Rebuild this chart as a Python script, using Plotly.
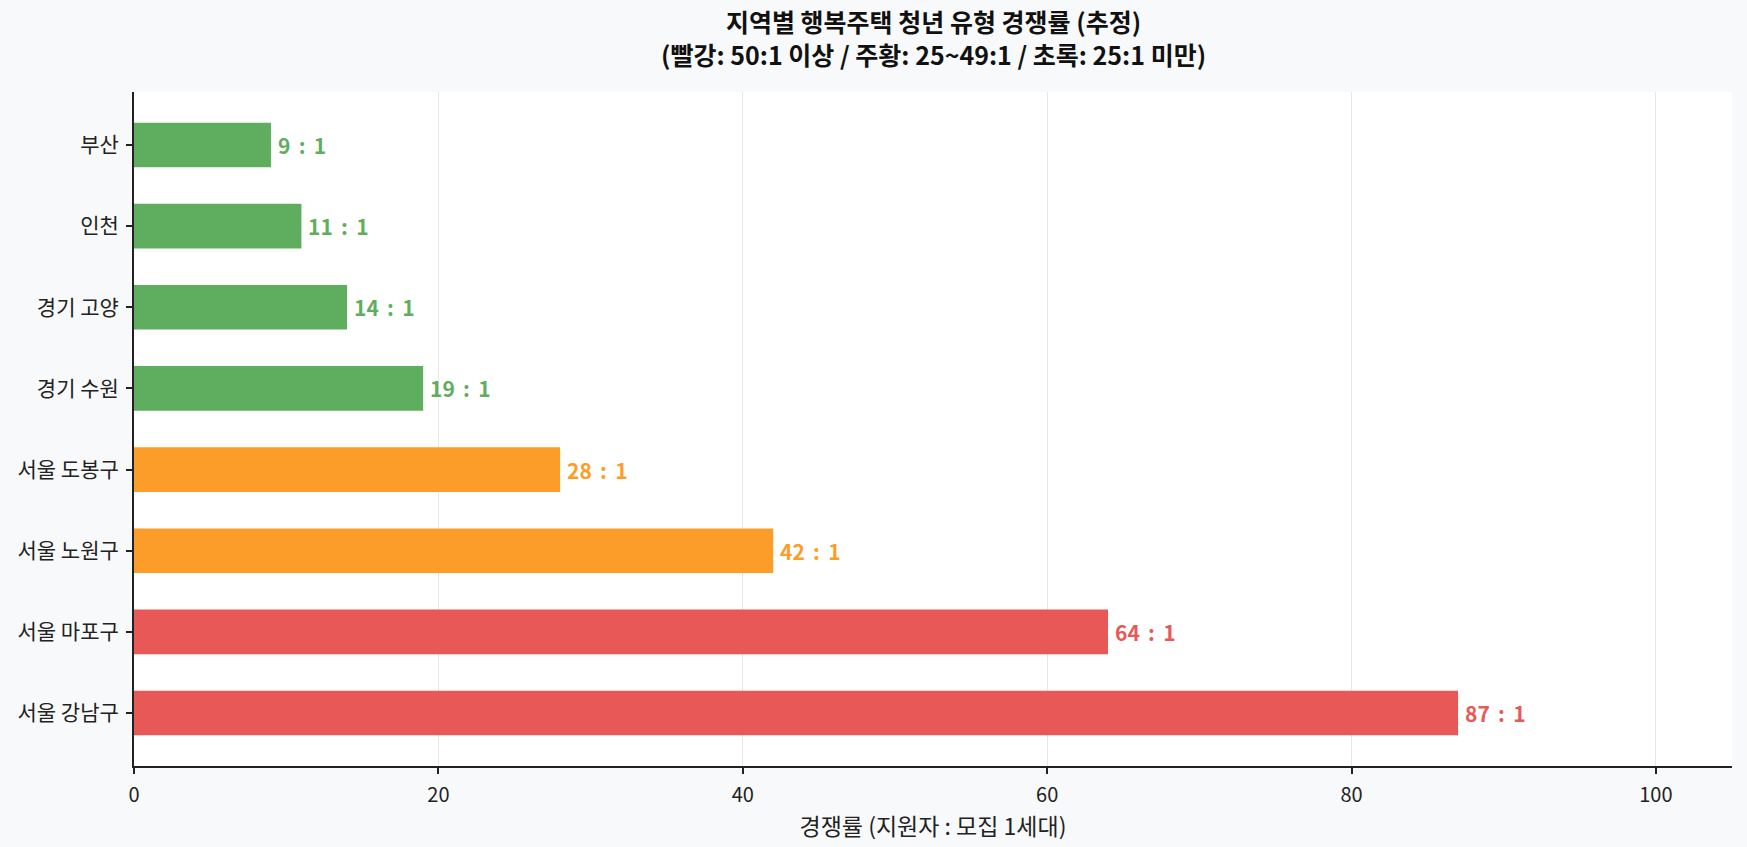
import plotly.graph_objects as go

regions = ["서울 강남구", "서울 마포구", "서울 노원구", "서울 도봉구", "경기 수원", "경기 고양", "인천", "부산"]
ratios = [87, 64, 42, 28, 19, 14, 11, 9]
labels = ["87 : 1", "64 : 1", "42 : 1", "28 : 1", "19 : 1", "14 : 1", "11 : 1", "9 : 1"]
title_lines = ["지역별 행복주택 청년 유형 경쟁률 (추정)",
               "(빨강: 50:1 이상 / 주황: 25~49:1 / 초록: 25:1 미만)"]

RED, ORANGE, GREEN = "#E85856", "#FC9D29", "#5FAE60"


def color_for(v):
    if v >= 50:
        return RED
    if v >= 25:
        return ORANGE
    return GREEN


colors = [color_for(v) for v in ratios]
FONT = "Noto Sans CJK KR"

fig = go.Figure()
fig.add_trace(go.Bar(
    y=regions, x=ratios, orientation="h",
    marker=dict(color=colors, line=dict(width=0)),
    width=0.55, hoverinfo="x+y",
))

for r, v, lab, c in zip(regions, ratios, labels, colors):
    fig.add_annotation(x=v, y=r, text="<b>" + lab.replace(" ", " \u2006") + "</b>", showarrow=False,
                       xanchor="left", yanchor="middle", xshift=5,
                       font=dict(family=FONT, size=21, color=c))

fig.add_annotation(x=0.5, y=1.0809, xref="paper", yref="paper",
                   text="<b>" + "<br>".join(title_lines) + "</b>",
                   showarrow=False, xanchor="center", yanchor="middle", align="center",
                   font=dict(family=FONT, size=25, color="#111111"))

fig.update_layout(
    width=1747, height=847,
    paper_bgcolor="#F8F9FA", plot_bgcolor="#FFFFFF",
    margin=dict(l=134, r=15, t=92, b=81),
    font=dict(family=FONT, size=20, color="#222222"),
    showlegend=False,
)

fig.update_xaxes(
    range=[0, 105], tickvals=[0, 20, 40, 60, 80, 100],
    showgrid=True, gridcolor="#E6E6E6", gridwidth=1,
    showline=True, linecolor="#222222", linewidth=2,
    ticks="outside", ticklen=6, tickcolor="#222222", tickwidth=2,
    tickfont=dict(size=20, color="#222222"), ticklabelstandoff=4,
    title=dict(text="경쟁률 (지원자 : 모집 1세대)", font=dict(size=23, color="#222222"), standoff=2),
    zeroline=False,
)
fig.update_yaxes(
    range=[-0.6525, 7.6525], autorange=False,
    showgrid=False,
    showline=True, linecolor="#222222", linewidth=2,
    ticks="outside", ticklen=6, tickcolor="#222222", tickwidth=2,
    tickfont=dict(size=21, color="#222222"), ticklabelstandoff=3,
    categoryorder="array", categoryarray=regions,
)

fig.write_html("out.html")
